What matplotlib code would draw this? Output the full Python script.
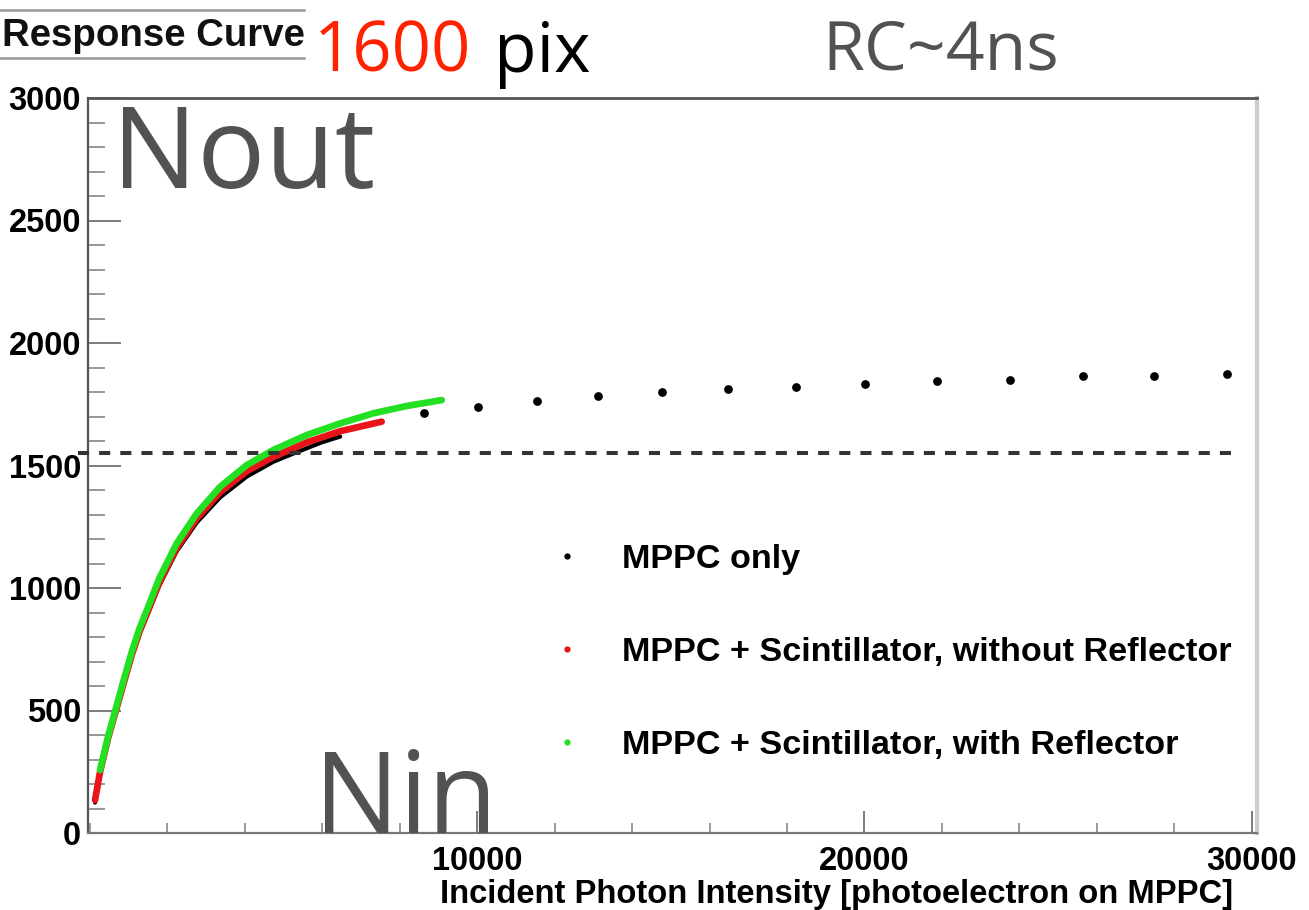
import matplotlib
matplotlib.use("Agg")
import matplotlib.pyplot as plt
from matplotlib.lines import Line2D
from matplotlib.ticker import MultipleLocator, FixedLocator

# ---------------- data ----------------
mppc_dense_x = [142, 300, 480, 700, 900, 1100, 1300, 1500, 1800, 2250, 2770,
                3370, 4060, 4740, 5170, 5600, 6000, 6470]
mppc_dense_y = [124, 265, 395, 528, 630, 730, 820, 895, 1010, 1150, 1268,
                1370, 1455, 1515, 1543, 1570, 1595, 1618]
mppc_sparse_x = [8630, 10030, 11550, 13120, 14770, 16480, 18230, 20010,
                 21870, 23760, 25640, 27470, 29360]
mppc_sparse_y = [1714, 1739, 1763, 1784, 1800, 1812, 1820, 1833, 1845,
                 1849, 1865, 1865, 1873]

noref_x = [142, 271, 480, 700, 900, 1100, 1300, 1500, 1800, 2250, 2770,
           3370, 4060, 4740, 5600, 6470, 7540]
noref_y = [135, 249, 388, 510, 622, 732, 826, 903, 1022, 1164, 1285,
           1391, 1477, 1535, 1594, 1640, 1679]

ref_x = [271, 480, 700, 900, 1100, 1300, 1500, 1800, 2250, 2770, 3370,
         4060, 4740, 5600, 6470, 7320, 8190, 9090]
ref_y = [257, 395, 520, 635, 745, 840, 918, 1040, 1182, 1305, 1413,
         1502, 1563, 1624, 1672, 1713, 1743, 1767]

threshold = 1551
legend_labels = ["MPPC only",
                 "MPPC + Scintillator, without Reflector",
                 "MPPC + Scintillator, with Reflector"]
xticks = [10000, 20000, 30000]
yticks = [0, 500, 1000, 1500, 2000, 2500, 3000]

# ---------------- figure ----------------
W, H = 1309, 910
fig = plt.figure(figsize=(W / 100, H / 100), dpi=100)
fig.patch.set_facecolor("white")

def fx(px):
    return px / W

def fy(py):
    return 1 - py / H

ax = fig.add_axes([fx(88), fy(833), fx(1257) - fx(88), fy(98) - fy(833)])
ax.set_xlim(-40, 30130)
ax.set_ylim(0, 3000)

BOLD = dict(family=["Liberation Sans", "DejaVu Sans"], weight="bold")
GRAY_TXT = "#525252"

col_black = "#000000"
col_red = "#e8141a"
col_green = "#22e022"

ax.plot(mppc_dense_x, mppc_dense_y, color=col_black, lw=3.0,
        solid_capstyle="round", zorder=2)
ax.plot(mppc_sparse_x, mppc_sparse_y, ls="none", marker="o", ms=6.3,
        color=col_black, mec="none", zorder=2)
ax.plot(noref_x, noref_y, color=col_red, lw=4.8, solid_capstyle="round",
        zorder=3)
ax.plot(ref_x, ref_y, color=col_green, lw=4.8, solid_capstyle="round",
        zorder=4)

# dashed threshold line (extends a bit beyond the left axis)
ax.plot([-300, 29720], [threshold, threshold], color="#333333", lw=2.9,
        ls=(0, (2.75, 2.5)), clip_on=False, zorder=5)

# ticks
ax.xaxis.set_major_locator(FixedLocator(xticks))
ax.xaxis.set_minor_locator(MultipleLocator(2000))
ax.yaxis.set_major_locator(FixedLocator(yticks))
ax.yaxis.set_minor_locator(MultipleLocator(100))
ax.tick_params(axis="x", which="major", direction="in", length=16, width=1.2,
               color="#666666", pad=9)
ax.tick_params(axis="x", which="minor", direction="in", length=7.5, width=1.2,
               color="#888888")
ax.tick_params(axis="y", which="major", direction="in", length=24, width=1.2,
               color="#666666", pad=5)
ax.tick_params(axis="y", which="minor", direction="in", length=12, width=1.2,
               color="#888888")
ax.set_xticklabels([str(v) for v in xticks])
ax.set_yticklabels([str(v) for v in yticks])
for lab in ax.get_xticklabels() + ax.get_yticklabels():
    lab.set_fontfamily(BOLD["family"])
    lab.set_fontweight("bold")
    lab.set_fontsize(23.5)

ax.spines["left"].set_color("#555555")
ax.spines["left"].set_linewidth(1.6)
ax.spines["bottom"].set_color("#777777")
ax.spines["bottom"].set_linewidth(1.6)
ax.spines["top"].set_color("#555555")
ax.spines["top"].set_linewidth(2.0)
ax.spines["right"].set_color("#cccccc")
ax.spines["right"].set_linewidth(3.0)

# x label
fig.text(fx(1233), fy(879), "Incident Photon Intensity [photoelectron on MPPC]",
         ha="right", va="top", fontsize=23.6, **BOLD)

# legend
handles = [Line2D([], [], ls="none", marker="o", ms=4.5, color=c, mec="none")
           for c in (col_black, col_red, col_green)]
leg = ax.legend(handles, legend_labels, loc="center left",
                bbox_to_anchor=(fx(532.5), fy(652.5)), bbox_transform=fig.transFigure,
                frameon=False, borderpad=0, handlelength=1.0,
                handletextpad=1.12, labelspacing=1.82,
                prop=dict(family=BOLD["family"], weight="bold", size=24.6))

# annotations
OPEN = ["Open Sans", "DejaVu Sans"]
fig.text(fx(112), fy(188), "Nout", fontsize=81.5, color=GRAY_TXT, family=OPEN,
         ha="left", va="baseline")
fig.text(fx(314), fy(833), "Nin", fontsize=81.5, color=GRAY_TXT, family=OPEN,
         ha="left", va="baseline")
fig.text(fx(314), fy(72), "1600", fontsize=49.5, color="#ff2200", family=OPEN,
         ha="left", va="baseline")
fig.text(fx(494), fy(72), "pix", fontsize=50, color="#000000", family=OPEN,
         ha="left", va="baseline")
fig.text(fx(822), fy(69), "RC~4ns", fontsize=49, color=GRAY_TXT, family=OPEN,
         ha="left", va="baseline")

# title box
fig.text(fx(2), fy(46), "Response Curve", fontsize=27.6, color="#111111",
         ha="left", va="baseline", **BOLD)
for yy in (9.5, 57.5):
    fig.add_artist(Line2D([fx(0), fx(304)], [fy(yy), fy(yy)], color="#999999",
                          lw=1.8, transform=fig.transFigure))

fig.savefig("out.png", dpi=100)
